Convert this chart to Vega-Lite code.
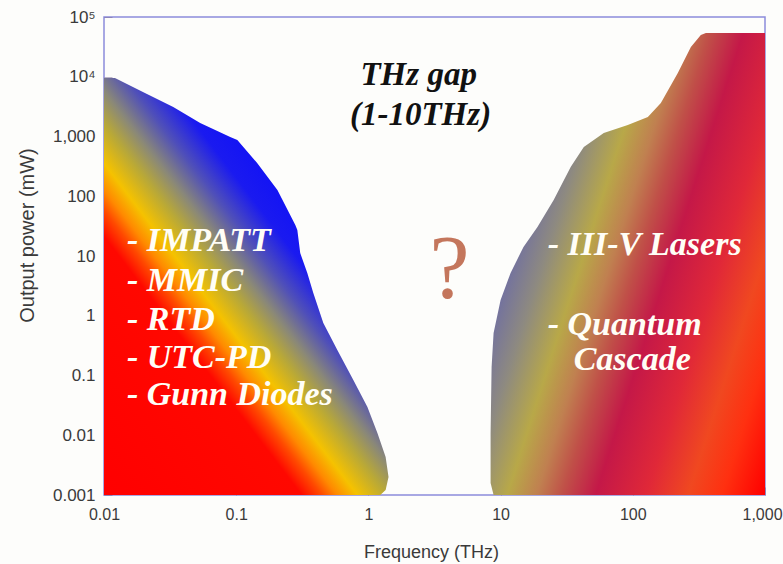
{
  "$schema": "https://vega.github.io/schema/vega-lite/v6.json",
  "width": 661,
  "height": 478,
  "autosize": {"type": "none"},
  "padding": {"left": 104, "top": 17, "right": 18, "bottom": 69},
  "background": "#fdfdfb",
  "config": {
    "view": {"stroke": "#8c8cdc", "strokeWidth": 1.5},
    "axis": {
      "labelFont": "Liberation Sans",
      "labelFontSize": 17,
      "labelColor": "#3a3a3a",
      "labelFlush": false,
      "labelOverlap": false,
      "titleFont": "Liberation Sans",
      "titleFontSize": 18,
      "titleFontWeight": "normal",
      "titleColor": "#3a3a3a",
      "domain": false,
      "ticks": true,
      "tickSize": -8,
      "tickColor": "#6a5a8a",
      "tickOpacity": 0.45,
      "tickWidth": 1,
      "grid": false,
      "zindex": 1
    }
  },
  "datasets": {
    "left": [
      {"f": 1.23, "p": 0.001},
      {"f": 1.35, "p": 0.00121},
      {"f": 1.42, "p": 0.002},
      {"f": 1.35, "p": 0.00433},
      {"f": 1.17, "p": 0.0109},
      {"f": 0.983, "p": 0.0297},
      {"f": 0.769, "p": 0.084},
      {"f": 0.582, "p": 0.267},
      {"f": 0.456, "p": 0.757},
      {"f": 0.383, "p": 2.4},
      {"f": 0.345, "p": 5.2},
      {"f": 0.305, "p": 11.2},
      {"f": 0.29, "p": 27.2},
      {"f": 0.28, "p": 33},
      {"f": 0.205, "p": 127},
      {"f": 0.144, "p": 360},
      {"f": 0.102, "p": 874},
      {"f": 0.0901, "p": 981},
      {"f": 0.0534, "p": 1680},
      {"f": 0.0334, "p": 3120},
      {"f": 0.0197, "p": 5560},
      {"f": 0.0121, "p": 9530}
    ],
    "right": [
      {"f": 8.85, "p": 0.001},
      {"f": 8.4, "p": 0.00159},
      {"f": 8.4, "p": 0.0109},
      {"f": 8.55, "p": 0.139},
      {"f": 8.85, "p": 0.514},
      {"f": 10.0, "p": 1.84},
      {"f": 11.9, "p": 5.2},
      {"f": 14.9, "p": 14.2},
      {"f": 19.0, "p": 30.6},
      {"f": 25.2, "p": 86.5},
      {"f": 33.9, "p": 309},
      {"f": 42.6, "p": 667},
      {"f": 60.3, "p": 1145},
      {"f": 91.6, "p": 1557},
      {"f": 130, "p": 2120},
      {"f": 163, "p": 3640},
      {"f": 219, "p": 11560},
      {"f": 275, "p": 31500},
      {"f": 327, "p": 50000},
      {"f": 357, "p": 54000}
    ],
    "devices": [
      {"f": 0.0149, "p": 12.1, "label": "- IMPATT"},
      {"f": 0.0149, "p": 2.6, "label": "- MMIC"},
      {"f": 0.0149, "p": 0.578, "label": "- RTD"},
      {"f": 0.0149, "p": 0.134, "label": "- UTC-PD"},
      {"f": 0.0149, "p": 0.0321, "label": "- Gunn Diodes"},
      {"f": 22.7, "p": 10.4, "label": "- III-V Lasers"},
      {"f": 22.7, "p": 0.477, "label": "- Quantum"},
      {"f": 35.7, "p": 0.124, "label": "Cascade"}
    ],
    "gap": [
      {"f": 2.4, "p": 7280, "label": "THz gap"},
      {"f": 2.48, "p": 1557, "label": "(1-10THz)"}
    ],
    "question": [
      {"f": 4.11, "p": 1.98, "label": "?"}
    ]
  },
  "encoding": {
    "x": {
      "field": "f",
      "type": "quantitative",
      "scale": {"type": "log", "domain": [0.01, 1000], "nice": false},
      "axis": {
        "title": "Frequency (THz)",
        "values": [0.01, 0.1, 1, 10, 100, 1000],
        "labelExpr": "format(datum.value, ',~g')",
        "labelFontSize": 16,
        "labelPadding": 19,
        "labelOffset": {"condition": {"test": "datum.value >= 1000", "value": -3}, "value": 0},
        "titleX": 327,
        "titleY": 62,
        "titleBaseline": "alphabetic"
      }
    },
    "y": {
      "field": "p",
      "type": "quantitative",
      "scale": {"type": "log", "domain": [0.001, 100000], "nice": false},
      "axis": {
        "title": "Output power (mW)",
        "values": [0.001, 0.01, 0.1, 1, 10, 100, 1000, 10000, 100000],
        "labelExpr": "datum.value > 50000 ? '10⁵' : datum.value > 5000 ? '10⁴' : format(datum.value, ',~g')",
        "labelPadding": 17,
        "titleFontSize": 20,
        "titleX": -77,
        "titleY": 218,
        "titleAngle": -90,
        "titleAlign": "center",
        "titleBaseline": "middle"
      }
    }
  },
  "layer": [
    {
      "data": {"name": "left"},
      "mark": {
        "type": "area",
        "orient": "horizontal",
        "fill": {
          "gradient": "linear",
          "x1": 0, "y1": 1, "x2": 0.79, "y2": 0.115,
          "stops": [
            {"offset": 0, "color": "#ff0000"},
            {"offset": 0.39, "color": "#ff0800"},
            {"offset": 0.43, "color": "#ff4a00"},
            {"offset": 0.46, "color": "#ff8a00"},
            {"offset": 0.5, "color": "#f5c200"},
            {"offset": 0.56, "color": "#b8a838"},
            {"offset": 0.61, "color": "#8a8878"},
            {"offset": 0.67, "color": "#5050b8"},
            {"offset": 0.74, "color": "#1a1af0"},
            {"offset": 1, "color": "#0000ff"}
          ]
        },
        "fillOpacity": 1
      },
      "encoding": {"x2": {"datum": 0.01}}
    },
    {
      "data": {"name": "right"},
      "mark": {
        "type": "area",
        "orient": "horizontal",
        "fill": {
          "gradient": "linear",
          "x1": 0, "y1": 0, "x2": 1.19, "y2": 0.64,
          "stops": [
            {"offset": 0, "color": "#4848c0"},
            {"offset": 0.2, "color": "#6a6aa8"},
            {"offset": 0.3, "color": "#8e8a80"},
            {"offset": 0.39, "color": "#b8a848"},
            {"offset": 0.46, "color": "#c08050"},
            {"offset": 0.52, "color": "#c05048"},
            {"offset": 0.6, "color": "#c41848"},
            {"offset": 0.72, "color": "#e02838"},
            {"offset": 0.82, "color": "#f04820"},
            {"offset": 0.9, "color": "#ff3010"},
            {"offset": 1, "color": "#ff0000"}
          ]
        },
        "fillOpacity": 1
      },
      "encoding": {"x2": {"datum": 1000}}
    },
    {
      "data": {"name": "devices"},
      "mark": {
        "type": "text",
        "align": "left",
        "baseline": "alphabetic",
        "font": "Liberation Serif",
        "fontSize": 34,
        "fontStyle": "italic",
        "fontWeight": "bold",
        "color": "#fffef6"
      },
      "encoding": {"text": {"field": "label"}}
    },
    {
      "data": {"name": "gap"},
      "mark": {
        "type": "text",
        "align": "center",
        "baseline": "alphabetic",
        "font": "Liberation Serif",
        "fontSize": 33,
        "fontStyle": "italic",
        "fontWeight": "bold",
        "color": "#111111"
      },
      "encoding": {"text": {"field": "label"}}
    },
    {
      "data": {"name": "question"},
      "mark": {
        "type": "text",
        "align": "center",
        "baseline": "alphabetic",
        "font": "Liberation Serif",
        "fontSize": 90,
        "color": "#c4765c"
      },
      "encoding": {"text": {"field": "label"}}
    }
  ]
}
